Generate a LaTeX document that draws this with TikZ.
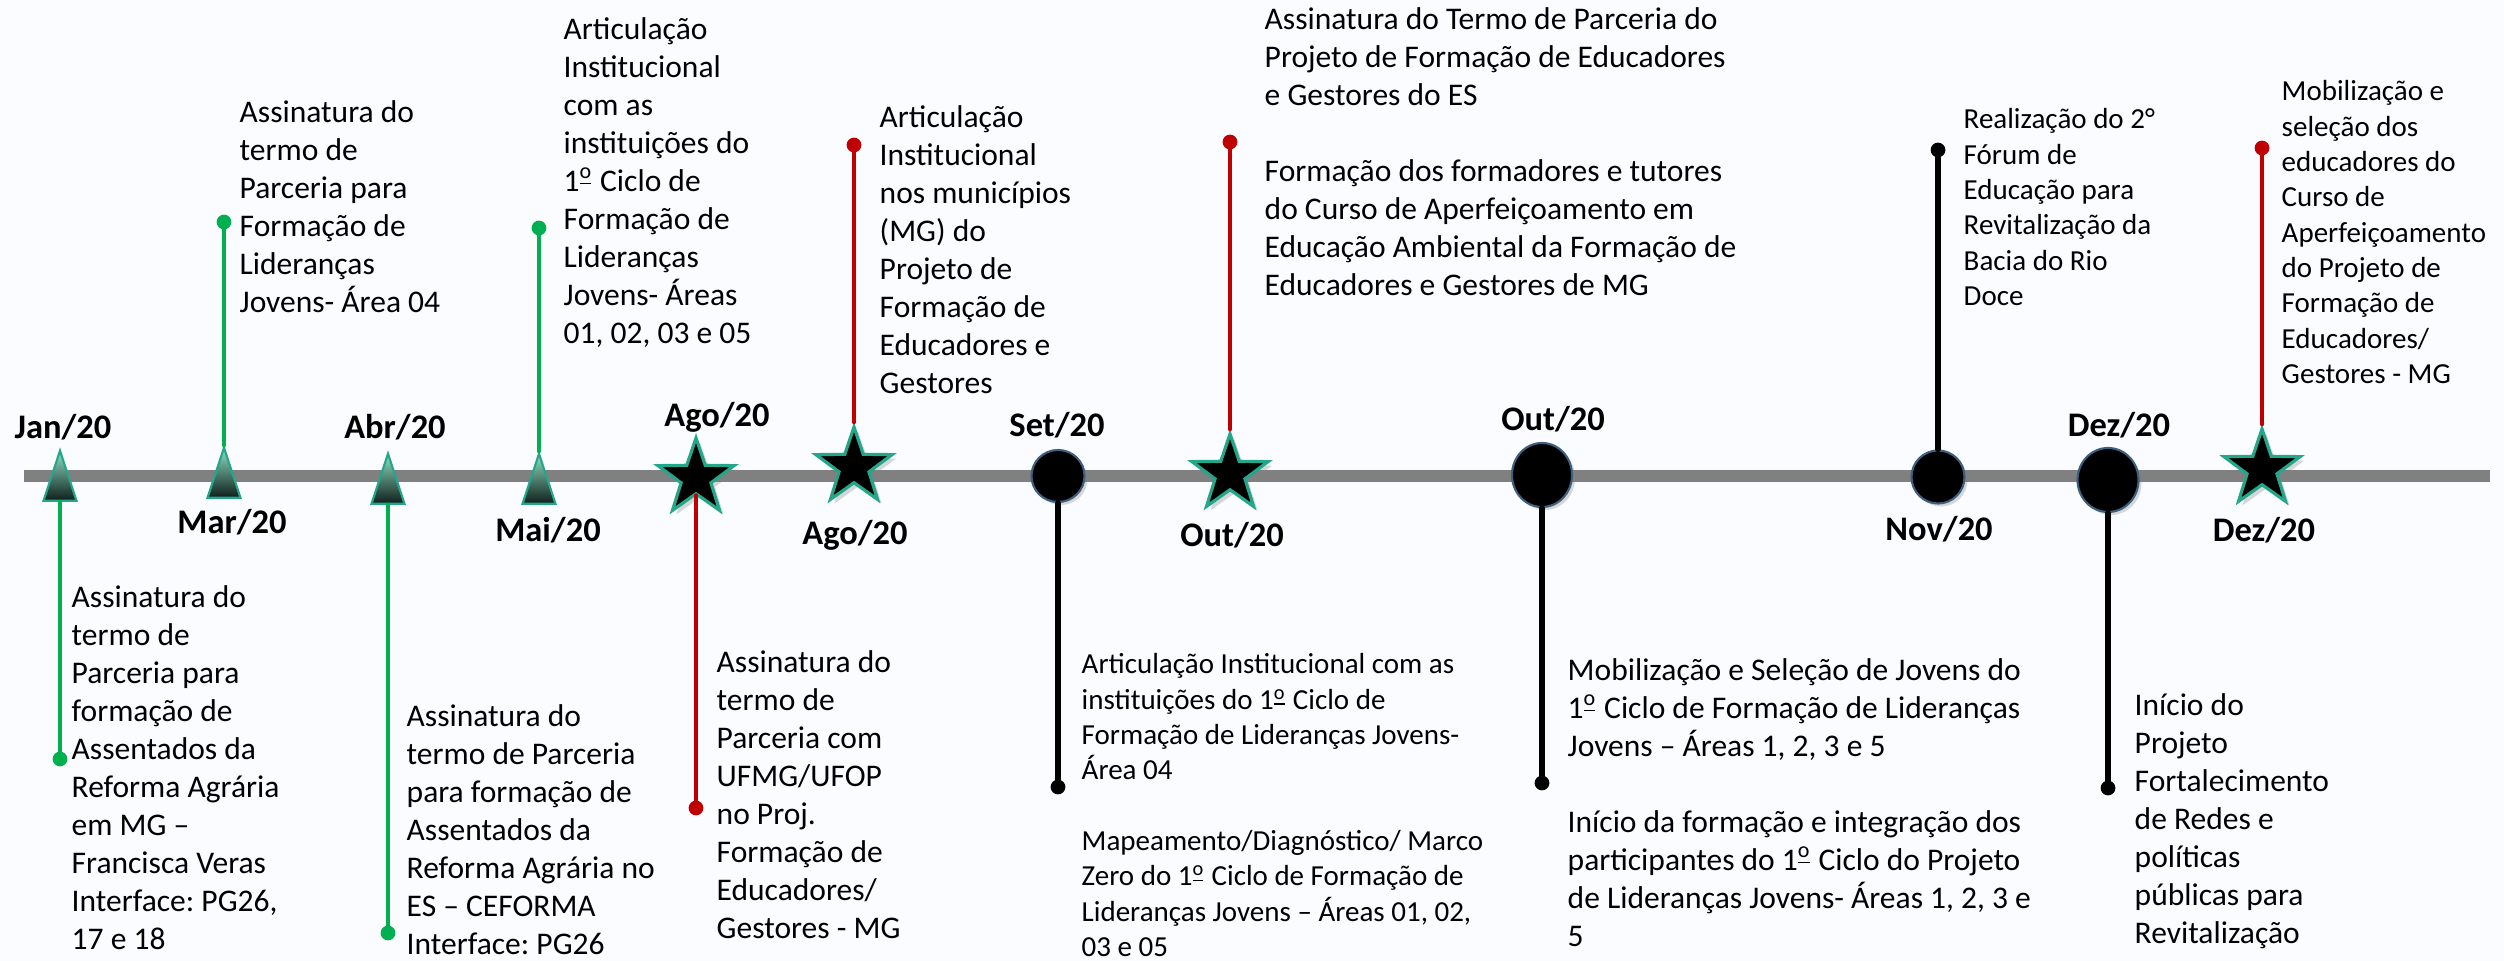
\documentclass[tikz,border=0pt]{standalone}
\usepackage{fontspec}
\setmainfont{Carlito}
\frenchspacing
\usetikzlibrary{shapes.geometric,shadows}
\definecolor{verde}{HTML}{00B050}
\definecolor{vermelho}{HTML}{C00000}
\definecolor{cinza}{HTML}{808080}
\definecolor{turquesa}{HTML}{24A68A}
\definecolor{claro}{HTML}{8FE2C6}
\definecolor{escuro}{HTML}{0E1E1A}
\definecolor{borda}{HTML}{3E5F7E}
\definecolor{fundo}{HTML}{FBFCFF}
\newcommand{\ordm}{\textsuperscript{\underline{o}}}
\tikzset{
	tri/.style={isosceles triangle,isosceles triangle stretches,shape border rotate=90,minimum width=0.33cm,minimum height=0.5cm,inner sep=0pt,draw=turquesa,line width=0.6pt,top color=claro,bottom color=escuro},
	estrela/.style={star,star points=5,star point ratio=2.55,minimum size=0.8cm,inner sep=0pt,fill=black,draw=turquesa,line width=0.9pt,drop shadow={opacity=0.3,shadow xshift=0.04cm,shadow yshift=-0.04cm}},
	bola/.style={ellipse,inner sep=0pt,fill=black,draw=borda,line width=0.6pt,drop shadow={opacity=0.3,shadow xshift=0.03cm,shadow yshift=-0.03cm}},
	haste/.style={line width=1.3pt,#1},
	mes/.style={font=\bfseries\fontsize{9.8}{11.8}\selectfont,inner sep=0pt},
	txt/.style={anchor=north west,inner sep=0pt,align=left,font=\fontsize{8.96}{10.81}\selectfont},
	txtp/.style={anchor=north west,inner sep=0pt,align=left,font=\fontsize{8.25}{10.05}\selectfont}
}
\begin{document}
\begin{tikzpicture}[x=0.01cm,y=-0.01cm,line cap=round]
	\fill[fundo] (0,0) rectangle (2504,961);
	\useasboundingbox (0,0) rectangle (2504,961);
	\coordinate (ini) at (24,476);
	\coordinate (fim) at (2490,476);
	\draw[cinza,line width=0.11cm,line cap=butt] (ini)--(fim);
	\node[tri,anchor=apex] (jan) at (60,448) {};
	\node[tri,anchor=apex] (mar) at (224,445) {};
	\node[tri,anchor=apex] (abr) at (388,451) {};
	\node[tri,anchor=apex] (mai) at (539,451) {};
	\node[estrela] (ago1) at (696,478) {};
	\node[estrela] (ago2) at (854,467) {};
	\node[bola,minimum width=0.53cm,minimum height=0.52cm] (set) at (1058,476) {};
	\node[estrela] (out1) at (1230,474) {};
	\node[bola,minimum width=0.6cm,minimum height=0.64cm] (out2) at (1542,475) {};
	\node[bola,minimum width=0.53cm,minimum height=0.53cm] (nov) at (1938,477) {};
	\node[bola,minimum width=0.61cm,minimum height=0.64cm] (dez1) at (2108,480) {};
	\node[estrela] (dez2) at (2262,469) {};
	\coordinate (dj) at (60,759);
	\coordinate (dm) at (224,222);
	\coordinate (da) at (388,933);
	\coordinate (dmai) at (539,228);
	\coordinate (dg1) at (696,808);
	\coordinate (dg2) at (854,145);
	\coordinate (ds) at (1058,787);
	\coordinate (do1) at (1230,142);
	\coordinate (do2) at (1542,783);
	\coordinate (dn) at (1938,150);
	\coordinate (dd1) at (2108,788);
	\coordinate (dd2) at (2262,148);
	\draw[haste=verde] (jan.lower side)--(dj);
	\draw[haste=verde] (mar.apex)--(dm);
	\draw[haste=verde] (abr.lower side)--(da);
	\draw[haste=verde] (mai.apex)--(dmai);
	\draw[haste=vermelho] (ago1.south)--(dg1);
	\draw[haste=vermelho] (ago2.north)--(dg2);
	\draw[haste=black,line width=1.5pt] (set.south)--(ds);
	\draw[haste=vermelho] (out1.north)--(do1);
	\draw[haste=black,line width=1.5pt] (out2.south)--(do2);
	\draw[haste=black,line width=1.5pt] (nov.north)--(dn);
	\draw[haste=black,line width=1.5pt] (dez1.south)--(dd1);
	\draw[haste=vermelho] (dez2.north)--(dd2);
	\fill[verde] (dj) circle (2.1pt);
	\fill[verde] (dm) circle (2.1pt);
	\fill[verde] (da) circle (2.1pt);
	\fill[verde] (dmai) circle (2.1pt);
	\fill[vermelho] (dg1) circle (2.1pt);
	\fill[vermelho] (dg2) circle (2.1pt);
	\fill[black] (ds) circle (2.1pt);
	\fill[vermelho] (do1) circle (2.1pt);
	\fill[black] (do2) circle (2.1pt);
	\fill[black] (dn) circle (2.1pt);
	\fill[black] (dd1) circle (2.1pt);
	\fill[vermelho] (dd2) circle (2.1pt);
	\node[mes] (ljan) at (63,427) {Jan/20};
	\node[mes] (lmar) at (232,522) {Mar/20};
	\node[mes] (labr) at (395,427) {Abr/20};
	\node[mes] (lmai) at (548,530) {Mai/20};
	\node[mes] (lago1) at (717,417) {Ago/20};
	\node[mes] (lago2) at (855,535) {Ago/20};
	\node[mes] (lset) at (1057,425) {Set/20};
	\node[mes] (lout1) at (1232,535) {Out/20};
	\node[mes] (lout2) at (1553,419) {Out/20};
	\node[mes] (lnov) at (1939,529) {Nov/20};
	\node[mes] (ldez1) at (2119,425) {Dez/20};
	\node[mes] (ldez2) at (2264,530) {Dez/20};
	\node[txt] (tjan) at (71,585) {Assinatura do\\termo de\\Parceria para\\formação de\\Assentados da\\Reforma Agrária\\em MG –\\Francisca Veras\\Interface: PG26,\\17 e 18};
	\node[txt] (tmar) at (239,100) {Assinatura do\\termo de\\Parceria para\\Formação de\\Lideranças\\Jovens- Área 04};
	\node[txt] (tabr) at (406,704) {Assinatura do\\termo de Parceria\\para formação de\\Assentados da\\Reforma Agrária no\\ES – CEFORMA\\Interface: PG26};
	\node[txt] (tmai) at (563,17) {Articulação\\Institucional\\com as\\instituições do\\1\ordm{} Ciclo de\\Formação de\\Lideranças\\Jovens- Áreas\\01, 02, 03 e 05};
	\node[txt] (tago1) at (716,650) {Assinatura do\\termo de\\Parceria com\\UFMG/UFOP\\no Proj.\\Formação de\\Educadores/\\Gestores - MG};
	\node[txt] (tago2) at (879,105) {Articulação\\Institucional\\nos municípios\\(MG) do\\Projeto de\\Formação de\\Educadores e\\Gestores};
	\node[txtp] (tset) at (1081,653) {Articulação Institucional com as\\instituições do 1\ordm{} Ciclo de\\Formação de Lideranças Jovens-\\Área 04\\[10pt]Mapeamento/Diagnóstico/ Marco\\Zero do 1\ordm{} Ciclo de Formação de\\Lideranças Jovens – Áreas 01, 02,\\03 e 05};
	\node[txt] (tout1) at (1264,7) {Assinatura do Termo de Parceria do\\Projeto de Formação de Educadores\\e Gestores do ES\\[10.8pt]Formação dos formadores e tutores\\do Curso de Aperfeiçoamento em\\Educação Ambiental da Formação de\\Educadores e Gestores de MG};
	\node[txt] (tout2) at (1567,658) {Mobilização e Seleção de Jovens do\\1\ordm{} Ciclo de Formação de Lideranças\\Jovens – Áreas 1, 2, 3 e 5\\[10.8pt]Início da formação e integração dos\\participantes do 1\ordm{} Ciclo do Projeto\\de Lideranças Jovens- Áreas 1, 2, 3 e\\5};
	\node[txtp] (tnov) at (1963,108) {Realização do 2°\\Fórum de\\Educação para\\Revitalização da\\Bacia do Rio\\Doce};
	\node[txt] (tdez1) at (2134,693) {Início do\\Projeto\\Fortalecimento\\de Redes e\\políticas\\públicas para\\Revitalização};
	\node[txtp] (tdez2) at (2281,80) {Mobilização e\\seleção dos\\educadores do\\Curso de\\Aperfeiçoamento\\do Projeto de\\Formação de\\Educadores/\\Gestores - MG};
\end{tikzpicture}
\end{document}
